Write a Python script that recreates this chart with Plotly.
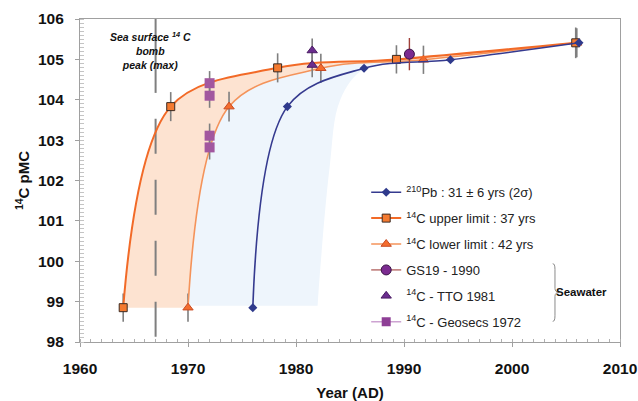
import plotly.graph_objects as go

# ---------------- data ----------------
pb_year = [1976.0, 1979.2, 1986.3, 1994.3, 2006.2]
pb_pmc = [98.85, 103.83, 104.78, 104.99, 105.41]

up_year = [1964.0, 1968.4, 1978.3, 1989.3, 2005.9]
up_pmc = [98.85, 103.83, 104.79, 105.00, 105.41]
up_err = [0.35, 0.36, 0.36, 0.35, 0.38]

lo_year = [1970.0, 1973.8, 1982.3, 1991.8, 2006.0]
lo_pmc = [98.85, 103.83, 104.78, 104.99, 105.41]
lo_err = [0.35, 0.37, 0.36, 0.35, 0.36]

gs_year = [1990.5]
gs_pmc = [105.13]
gs_err = [0.40]

tto_year = [1981.5, 1981.5]
tto_pmc = [105.22, 104.86]
tto_err = [0.30, 0.30]

geo_year = [1972.0, 1972.0, 1972.0, 1972.0]
geo_pmc = [104.41, 104.10, 103.11, 102.82]
geo_err = [0.30, 0.30, 0.30, 0.30]

# light-blue uncertainty band (outline)
band_year = [1970.0, 1973.8, 1982.3, 1991.8, 1986.3, 1984.1, 1983.1, 1982.1, 1982.0]
band_pmc = [98.90, 103.83, 104.78, 104.99, 104.76, 104.0, 102.3, 99.3, 98.90]

bomb_year = 1967.0
bomb_dash_pmc = [98.13, 104.17]
bomb_solid_pmc = [104.17, 106.0]

x_range = [1960, 2010]
y_range = [98, 106]

FONT = "Liberation Sans"
GRAY = "#7f7f7f"

fig = go.Figure()

# ---- fills ----
fig.add_trace(go.Scatter(x=band_year, y=band_pmc, mode="lines", fill="toself",
                         fillcolor="#eef5fc", line=dict(width=0, shape="spline"),
                         showlegend=False, hoverinfo="skip"))
fig.add_trace(go.Scatter(x=lo_year, y=lo_pmc, mode="lines",
                         line=dict(width=0, shape="spline"),
                         showlegend=False, hoverinfo="skip"))
fig.add_trace(go.Scatter(x=up_year, y=up_pmc, mode="lines", fill="tonexty",
                         fillcolor="#fde3d1", line=dict(width=0, shape="spline"),
                         showlegend=False, hoverinfo="skip"))

# ---- bomb peak vertical line ----
fig.add_trace(go.Scatter(x=[bomb_year, bomb_year], y=bomb_dash_pmc, mode="lines",
                         line=dict(color=GRAY, width=2, dash="35px,26px"),
                         showlegend=False, hoverinfo="skip"))
fig.add_trace(go.Scatter(x=[bomb_year, bomb_year], y=bomb_solid_pmc, mode="lines",
                         line=dict(color=GRAY, width=2),
                         showlegend=False, hoverinfo="skip"))

err_style = dict(type="data", thickness=1.6, width=0, color=GRAY)

# ---- series ----
fig.add_trace(go.Scatter(
    x=lo_year, y=lo_pmc, mode="lines+markers",
    name="<sup>14</sup>C lower limit : 42 yrs", legendrank=3, legendgroup="c",
    line=dict(color="#f4935a", width=1.6, shape="spline"),
    marker=dict(symbol="triangle-up", size=9, color="#f46d2e",
                line=dict(color="#c84a22", width=1)),
    error_y=dict(array=lo_err, **err_style)))

fig.add_trace(go.Scatter(
    x=up_year, y=up_pmc, mode="lines+markers",
    name="<sup>14</sup>C upper limit : 37 yrs", legendrank=2, legendgroup="b",
    line=dict(color="#f26a27", width=2, shape="spline"),
    marker=dict(symbol="square", size=8, color="#f47a30",
                line=dict(color="#3b2a22", width=1)),
    error_y=dict(array=up_err, **err_style)))

fig.add_trace(go.Scatter(
    x=pb_year, y=pb_pmc, mode="lines+markers",
    name="<sup>210</sup>Pb : 31 ± 6 yrs (2σ)", legendrank=1, legendgroup="a",
    line=dict(color="#353a8f", width=1.6, shape="spline"),
    marker=dict(symbol="diamond", size=7, color="#2f3a8c")))

fig.add_trace(go.Scatter(
    x=geo_year, y=geo_pmc, mode="markers", showlegend=False,
    marker=dict(symbol="square", size=10, color="#a2579f"),
    error_y=dict(array=geo_err, **err_style)))

fig.add_trace(go.Scatter(
    x=tto_year, y=tto_pmc, mode="markers",
    name="<sup>14</sup>C - TTO 1981", legendrank=5, legendgroup="e",
    marker=dict(symbol="triangle-up", size=9, color="#6b2d8e",
                line=dict(color="#4a1c64", width=1)),
    error_y=dict(array=tto_err, **err_style)))

fig.add_trace(go.Scatter(
    x=gs_year, y=gs_pmc, mode="lines+markers",
    name="GS19 - 1990", legendrank=4, legendgroup="d",
    line=dict(color="#c48886", width=1.6),
    marker=dict(symbol="circle", size=10, color="#7b2b90",
                line=dict(color="#3b1446", width=1)),
    error_y=dict(type="data", array=gs_err, thickness=1.4, width=0, color="#a0403a")))

# legend-only entry for Geosecs (line + marker in legend)
fig.add_trace(go.Scatter(
    x=[None], y=[None], mode="lines+markers",
    name="<sup>14</sup>C - Geosecs 1972", legendrank=6, legendgroup="f",
    line=dict(color="#cda3d2", width=1.6),
    marker=dict(symbol="square", size=9, color="#8e3f96")))

# ---- annotations ----
fig.add_annotation(x=1966.55, y=105.23, xref="x", yref="y",
                   text="<b><i>Sea surface <sup>14</sup> C<br>bomb<br>peak (max)</i></b>",
                   showarrow=False, font=dict(family=FONT, size=10.5, color="#111"),
                   align="center")
fig.add_annotation(x=2006.45, y=99.23, xref="x", yref="y", xanchor="center",
                   text="<b>Seawater</b>", showarrow=False,
                   font=dict(family=FONT, size=11.5, color="#111"))

# brace
fig.add_shape(type="path", xref="x", yref="y",
              path=("M 2003.77,99.94 Q 2003.98,99.94 2003.98,99.80 "
                    "L 2003.98,99.33 Q 2003.98,99.23 2004.38,99.23 "
                    "Q 2003.98,99.23 2003.98,99.13 L 2003.98,98.65 "
                    "Q 2003.98,98.51 2003.77,98.51"),
              line=dict(color="#8a8a8a", width=1))

fig.update_layout(
    width=638, height=401,
    margin=dict(l=80, r=18, t=19, b=59, autoexpand=False),
    paper_bgcolor="white", plot_bgcolor="white",
    font=dict(family=FONT, color="#111"),
    showlegend=True,
    legend=dict(x=0.530, y=0.510, xanchor="left", yanchor="top",
                bgcolor="rgba(0,0,0,0)", traceorder="grouped",
                tracegroupgap=6, font=dict(family=FONT, size=13, color="#222")),
    xaxis=dict(range=x_range, dtick=10, showgrid=False, zeroline=False,
               automargin=False,
               showline=True, linecolor="#a0a0a0", linewidth=1.2, mirror=True,
               ticks="outside", ticklen=4, tickcolor="#a0a0a0",
               minor=dict(dtick=1, ticks="inside", ticklen=3, tickcolor="#b0b0b0"),
               tickfont=dict(family=FONT, size=15.5, color="#111", weight="bold"),
               ticklabelstandoff=8,
               title=dict(text="<b>Year (AD)</b>", standoff=11,
                          font=dict(family=FONT, size=15, color="#111"))),
    yaxis=dict(range=y_range, dtick=1, showgrid=False, zeroline=False,
               automargin=False,
               showline=True, linecolor="#a0a0a0", linewidth=1.2, mirror=True,
               ticks="outside", ticklen=4, tickcolor="#a0a0a0",
               minor=dict(dtick=0.1, ticks="inside", ticklen=4, tickcolor="#c4c4c4"),
               tickfont=dict(family=FONT, size=15.5, color="#111", weight="bold"),
               ticklabelstandoff=8,
               title=dict(text="<b><sup>14</sup>C pMC</b>", standoff=4,
                          font=dict(family=FONT, size=15, color="#111"))),
)

fig.write_html("out.html", config={"displayModeBar": False},
               post_script="document.body.style.margin='0';document.body.style.padding='0';")
